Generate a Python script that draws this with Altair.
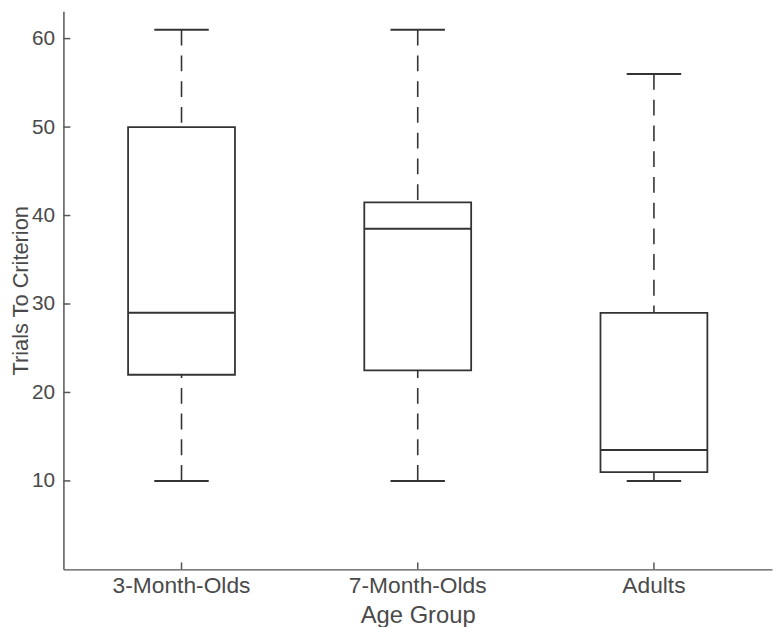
import altair as alt
import pandas as pd

groups = ["3-Month-Olds", "7-Month-Olds", "Adults"]
whisker_low = [10, 10, 10]
q1 = [22, 22.5, 11]
median = [29, 38.5, 13.5]
q3 = [50, 41.5, 29]
whisker_high = [61, 61, 56]
y_ticks = [10, 20, 30, 40, 50, 60]

df = pd.DataFrame({
    "group": groups,
    "lo": whisker_low,
    "q1": q1,
    "med": median,
    "q3": q3,
    "hi": whisker_high,
})
ticks_df = pd.DataFrame({"v": y_ticks})

W, H = 716, 564
INK = "#333333"
AX = "#555555"
TXT = "#4a4a4a"
FONT = "Liberation Sans"

xs = alt.X("group:N", sort=groups, title="Age Group",
           scale=alt.Scale(domain=groups, paddingInner=0, paddingOuter=0),
           axis=alt.Axis(labelAngle=0, ticks=False, tickSize=0, grid=False,
                         domainColor=AX, domainWidth=1.5, labelColor=TXT, titleColor=TXT,
                         labelFontSize=23, titleFontSize=24, labelFont=FONT, titleFont=FONT,
                         labelFontWeight="normal", titleFontWeight="normal",
                         labelPadding=5, titlePadding=7))
ys_scale = alt.Scale(domain=[0, 63.1], nice=False, zero=False)
y_axis = alt.Axis(values=y_ticks, ticks=False, tickSize=0, grid=False,
                  domainColor=AX, domainWidth=1.5, labelColor=TXT, titleColor=TXT,
                  labelFontSize=21, titleFontSize=22, labelFont=FONT, titleFont=FONT,
                  labelFontWeight="normal", titleFontWeight="normal",
                  labelPadding=9, titleX=-36, titleBaseline="alphabetic")

base = alt.Chart(df)

whisk_top = base.mark_rule(color=INK, strokeWidth=1.6, strokeDash=[16, 10]).encode(
    x=xs,
    y=alt.Y("hi:Q", scale=ys_scale, axis=y_axis, title="Trials To Criterion"),
    y2="q3:Q",
)
whisk_bot = base.mark_rule(color=INK, strokeWidth=1.6, strokeDash=[16, 10]).encode(
    x=xs, y=alt.Y("lo:Q", scale=ys_scale), y2="q1:Q",
)
box = base.mark_bar(fill="white", stroke=INK, strokeWidth=1.8, size=108).encode(
    x=xs, y=alt.Y("q1:Q", scale=ys_scale), y2="q3:Q",
)
med = base.mark_tick(color=INK, size=108, thickness=2, opacity=1).encode(
    x=xs, y=alt.Y("med:Q", scale=ys_scale),
)
cap_hi = base.mark_tick(color=INK, size=55, thickness=2, opacity=1).encode(
    x=xs, y=alt.Y("hi:Q", scale=ys_scale),
)
cap_lo = base.mark_tick(color=INK, size=55, thickness=2, opacity=1).encode(
    x=xs, y=alt.Y("lo:Q", scale=ys_scale),
)
ytick_marks = alt.Chart(ticks_df).mark_rule(color=AX, strokeWidth=1.5).encode(
    y=alt.Y("v:Q", scale=ys_scale),
    x=alt.value(0), x2=alt.value(7),
)
xtick_marks = base.mark_rule(color=AX, strokeWidth=1.5).encode(
    x=xs, y=alt.value(H), y2=alt.value(H - 7),
)

chart = alt.layer(
    whisk_top, whisk_bot, box, med, cap_hi, cap_lo, ytick_marks, xtick_marks
).properties(
    width=W, height=H,
    background="white",
    autosize=alt.AutoSizeParams(type="none"),
    padding={"left": 56, "top": 0, "right": 3, "bottom": 55},
).configure_view(stroke=None, strokeWidth=0)

chart.save("out.html", embed_options={"renderer": "svg", "actions": False})
